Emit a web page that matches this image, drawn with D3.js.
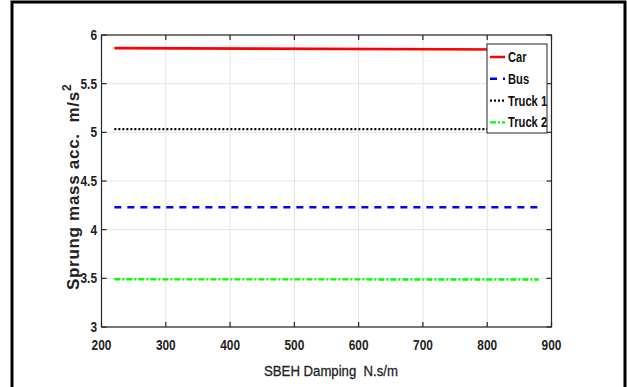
<!DOCTYPE html>
<html><head><meta charset="utf-8">
<script src="https://cdn.jsdelivr.net/npm/d3@7"></script>
<style>html,body{margin:0;padding:0;background:#fff;}svg{display:block;}</style>
</head><body>
<script>
const damping = [220, 880];
const carVals = [5.865, 5.85];
const busVals = [4.23, 4.23];
const truck1Vals = [5.033, 5.033];
const truck2Vals = [3.49, 3.488];
const seriesNames = ["Car", "Bus", "Truck 1", "Truck 2"];
const xTicks = [200, 300, 400, 500, 600, 700, 800, 900];
const yTicks = [3, 3.5, 4, 4.5, 5, 5.5, 6];

const W = 627, H = 387;
const svg = d3.select("body").append("svg").attr("width", W).attr("height", H);
const L = 101.5, R = 551.5, T = 35, B = 327;
const x = d3.scaleLinear().domain([200, 900]).range([L, R]);
const y = d3.scaleLinear().domain([3, 6]).range([B, T]);
const SX = 0.82;
const font = "'Liberation Sans', Arial, sans-serif";

// outer frame
svg.append("path").attr("d", `M12,${H+5} V2 H625 V${H+5}`).attr("fill", "none").attr("stroke", "#000").attr("stroke-width", 3);

// grid
const g = svg.append("g");
g.selectAll(".gx").data(xTicks).enter().append("line")
  .attr("x1", d => x(d)).attr("x2", d => x(d)).attr("y1", T).attr("y2", B)
  .attr("stroke", "#e3e3e3").attr("stroke-width", 1);
g.selectAll(".gy").data(yTicks).enter().append("line")
  .attr("y1", d => y(d)).attr("y2", d => y(d)).attr("x1", L).attr("x2", R)
  .attr("stroke", "#e3e3e3").attr("stroke-width", 1);

// series
const series = [
  {name: seriesNames[0], vals: carVals, color: "#ff0000", dash: null, w: 2.6},
  {name: seriesNames[1], vals: busVals, color: "#0000ff", dash: "7,6", w: 2.6},
  {name: seriesNames[2], vals: truck1Vals, color: "#000000", dash: "2,2", w: 2.2},
  {name: seriesNames[3], vals: truck2Vals, color: "#00ff00", dash: "6,2,2,2", w: 2.4}
];
const line = d3.line().x(d => x(d[0])).y(d => y(d[1]));
series.forEach(s => {
  const p = svg.append("path").datum(damping.map((d, i) => [d, s.vals[i]]))
    .attr("d", line).attr("fill", "none").attr("stroke", s.color).attr("stroke-width", s.w);
  if (s.dash) p.attr("stroke-dasharray", s.dash);
});

// axes box
const tl = 5;
const ax = svg.append("g").attr("stroke", "#262626").attr("stroke-width", 1.2).attr("fill", "none");
ax.append("rect").attr("x", L).attr("y", T).attr("width", R - L).attr("height", B - T);
xTicks.forEach(t => {
  ax.append("line").attr("x1", x(t)).attr("x2", x(t)).attr("y1", B).attr("y2", B - tl);
  ax.append("line").attr("x1", x(t)).attr("x2", x(t)).attr("y1", T).attr("y2", T + tl);
});
yTicks.forEach(t => {
  ax.append("line").attr("y1", y(t)).attr("y2", y(t)).attr("x1", L).attr("x2", L + tl);
  ax.append("line").attr("y1", y(t)).attr("y2", y(t)).attr("x1", R).attr("x2", R - tl);
});

// tick labels (condensed)
svg.selectAll(".xl").data(xTicks).enter().append("text")
  .attr("transform", d => `translate(${x(d)},350) scale(${SX},1)`).attr("text-anchor", "middle")
  .attr("font-family", font).attr("font-weight", "bold").attr("font-size", 14.5).attr("fill", "#222")
  .text(d => d);
svg.selectAll(".yl").data(yTicks).enter().append("text")
  .attr("transform", d => `translate(97,${y(d) + 5}) scale(${SX},1)`).attr("text-anchor", "end")
  .attr("font-family", font).attr("font-weight", "bold").attr("font-size", 14.5).attr("fill", "#222")
  .text(d => d);

// axis labels
svg.append("text").attr("transform", `translate(331,376) scale(0.85,1)`).attr("text-anchor", "middle")
  .attr("font-family", font).attr("font-size", 15.5).attr("fill", "#222")
  .attr("stroke", "#222").attr("stroke-width", 0.3)
  .attr("xml:space", "preserve")
  .text("SBEH Damping  N.s/m");
const yl = svg.append("text").attr("transform", "translate(79,290) rotate(-90)").attr("text-anchor", "start")
  .attr("font-family", font).attr("font-weight", "bold").attr("font-size", 17).attr("fill", "#222")
  .attr("letter-spacing", 0.7)
  .attr("xml:space", "preserve");
yl.append("tspan").text("Sprung mass acc.  m/s");
yl.append("tspan").attr("dy", -8).attr("font-size", 12).text("2");

// legend
const lg = svg.append("g");
lg.append("rect").attr("x", 487).attr("y", 44).attr("width", 60).attr("height", 89)
  .attr("fill", "#fff").attr("stroke", "#262626").attr("stroke-width", 1);
series.forEach((s, i) => {
  const yy = 57 + i * 21.8;
  const l = lg.append("line").attr("x1", 490).attr("x2", 505).attr("y1", yy).attr("y2", yy)
    .attr("stroke", s.color).attr("stroke-width", s.w);
  if (s.dash) l.attr("stroke-dasharray", s.dash);
  lg.append("text").attr("transform", `translate(508,${yy + 5}) scale(0.8,1)`).attr("font-family", font)
    .attr("font-weight", "bold").attr("font-size", 14).attr("fill", "#111").text(s.name);
});
</script>
</body></html>
